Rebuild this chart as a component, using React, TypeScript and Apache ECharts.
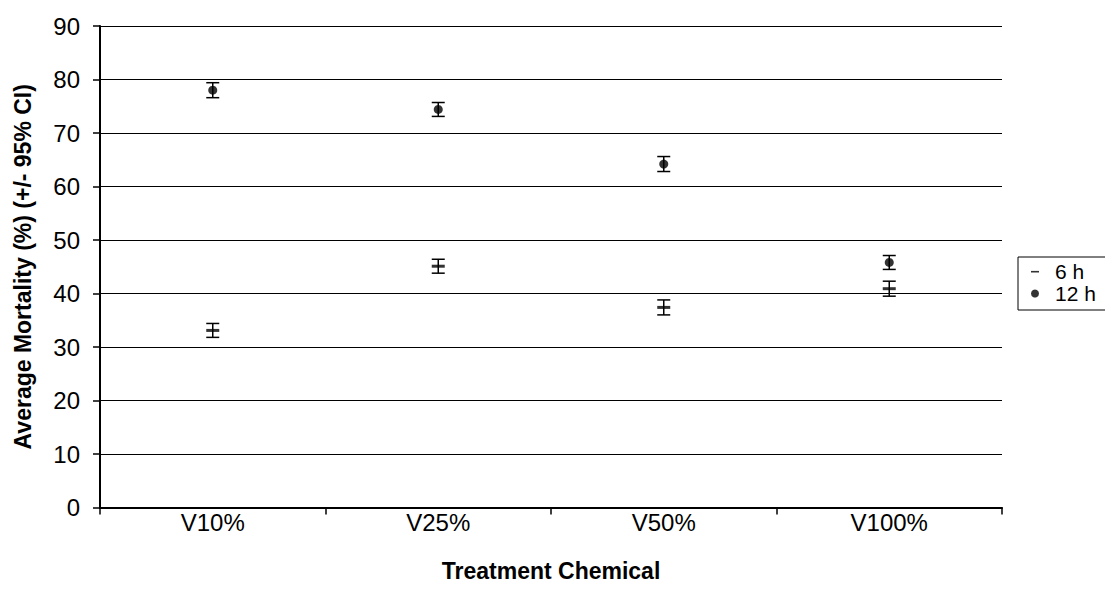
import React, { useEffect, useRef } from "react";
import * as echarts from "echarts";

const categories = ["V10%", "V25%", "V50%", "V100%"];
const mean6h = [33.1, 45.1, 37.4, 40.9];
const ci6h = [1.3, 1.3, 1.4, 1.4];
const mean12h = [78.0, 74.4, 64.2, 45.8];
const ci12h = [1.4, 1.3, 1.4, 1.3];
const yTicks = { min: 0, max: 90, interval: 10 };

const FONT = 'Arial, "Liberation Sans", sans-serif';

export default function App() {
  const ref = useRef<HTMLDivElement>(null);
  useEffect(() => {
    if (!ref.current) return;
    const chart = echarts.init(ref.current, null, { renderer: "svg" });
    const errData = (means: number[], cis: number[]) =>
      means.map((m, i) => [i, m - cis[i], m + cis[i]]);
    const errorSeries = (data: number[][]) => ({
      type: "custom",
      silent: true,
      z: 3,
      renderItem: (params: any, api: any) => {
        const x = api.value(0);
        const lo = api.coord([x, api.value(1)]);
        const hi = api.coord([x, api.value(2)]);
        const hw = 6.5;
        const style = { stroke: "#000", lineWidth: 1.5 };
        return {
          type: "group",
          children: [
            { type: "line", shape: { x1: lo[0], y1: lo[1], x2: hi[0], y2: hi[1] }, style },
            { type: "line", shape: { x1: lo[0] - hw, y1: lo[1], x2: lo[0] + hw, y2: lo[1] }, style },
            { type: "line", shape: { x1: hi[0] - hw, y1: hi[1], x2: hi[0] + hw, y2: hi[1] }, style },
          ],
        };
      },
      encode: { x: 0, y: [1, 2] },
      data,
    });
    chart.setOption({
      animation: false,
      backgroundColor: "#fff",
      grid: { left: 100, right: 103, top: 26, bottom: 96.5, containLabel: false },
      legend: {
        orient: "vertical",
        left: 1018,
        top: 257,
        padding: [4, 60, 6, 13],
        borderColor: "#000",
        borderWidth: 1,
        borderRadius: 0,
        itemWidth: 8,
        itemHeight: 8,
        itemGap: 1,
        selectedMode: false,
        textStyle: { color: "#000", fontSize: 21, fontFamily: FONT, lineHeight: 21, padding: [0, 0, 0, 11] },
        data: [
          { name: "6 h", icon: "path://M0,0M0,3.4L8,3.4L8,5L0,5ZM8,8" },
          { name: "12 h", icon: "circle" },
        ],
      },
      xAxis: {
        type: "category",
        data: categories,
        boundaryGap: true,
        name: "Treatment Chemical",
        nameLocation: "middle",
        nameGap: 52,
        nameTextStyle: { color: "#000", fontSize: 23, fontWeight: "bold", fontFamily: FONT },
        axisLine: { show: true, lineStyle: { color: "#000", width: 2 } },
        axisTick: { show: true, inside: false, length: 7, alignWithLabel: false, lineStyle: { color: "#000", width: 1.5 } },
        axisLabel: { color: "#000", fontSize: 24, fontFamily: FONT, margin: 3 },
        splitLine: { show: false },
      },
      yAxis: {
        type: "value",
        min: yTicks.min,
        max: yTicks.max,
        interval: yTicks.interval,
        name: "Average Mortality (%) (+/- 95% CI)",
        nameLocation: "middle",
        nameGap: 66,
        nameTextStyle: { color: "#000", fontSize: 23, fontWeight: "bold", fontFamily: FONT },
        axisLine: { show: true, lineStyle: { color: "#000", width: 2 } },
        axisTick: { show: true, inside: false, length: 7, lineStyle: { color: "#000", width: 1.5 } },
        axisLabel: { color: "#000", fontSize: 24, fontFamily: FONT, margin: 20 },
        splitLine: { show: true, lineStyle: { color: "#000", width: 1 } },
      },
      series: [
        errorSeries(errData(mean6h, ci6h)),
        errorSeries(errData(mean12h, ci12h)),
        {
          name: "6 h",
          type: "scatter",
          symbol: "rect",
          symbolSize: [13, 3],
          itemStyle: { color: "#000" },
          z: 4,
          data: mean6h.map((v, i) => [i, v]),
        },
        {
          name: "12 h",
          type: "scatter",
          symbol: "circle",
          symbolSize: 9,
          itemStyle: { color: "#000" },
          z: 4,
          data: mean12h.map((v, i) => [i, v]),
        },
      ],
    });
    return () => chart.dispose();
  }, []);
  return (
    <div
      ref={ref}
      style={{ position: "absolute", left: 0, top: 0, width: 1105, height: 604, background: "#fff" }}
    />
  );
}
